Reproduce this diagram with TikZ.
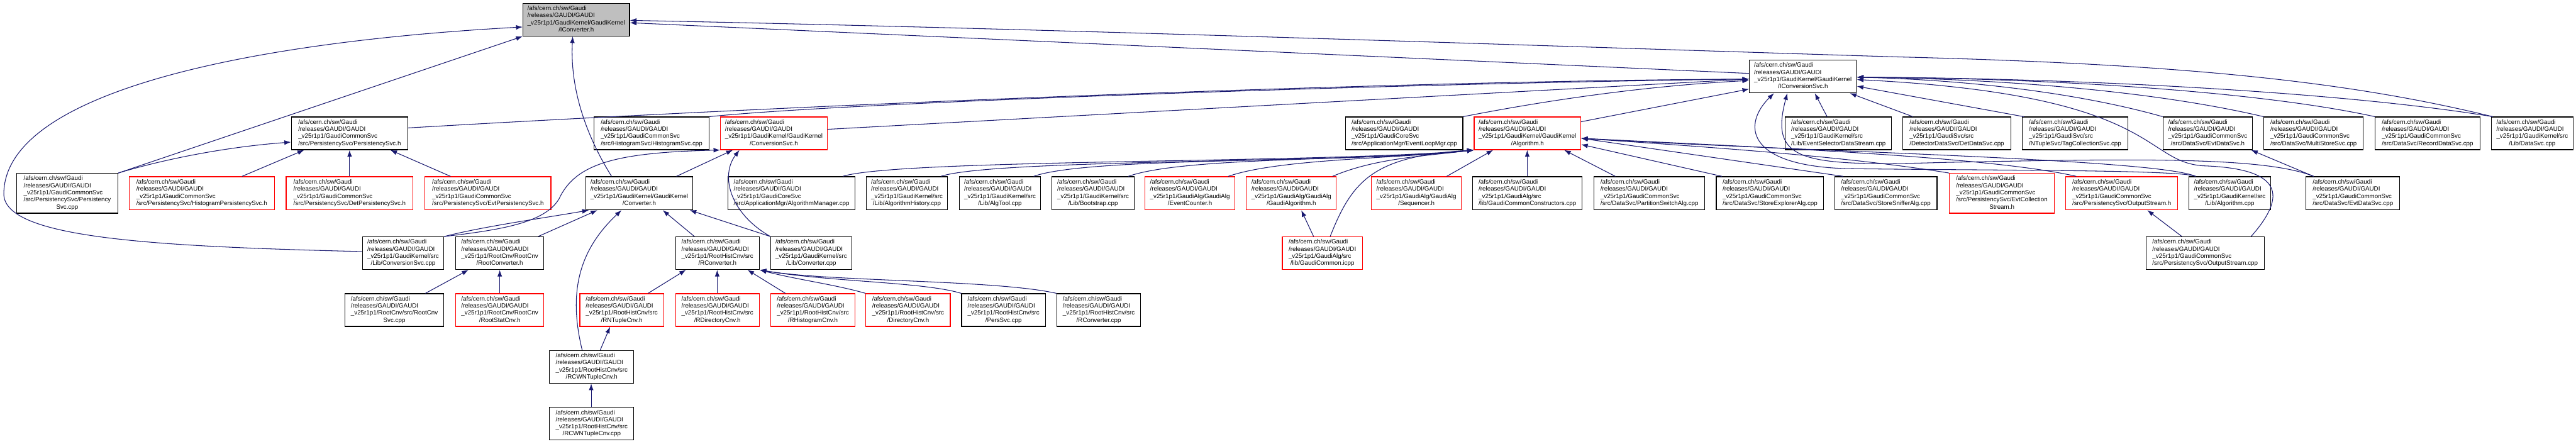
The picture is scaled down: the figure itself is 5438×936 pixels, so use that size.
\documentclass[tikz,border=0pt]{standalone}
\usepackage{fontspec}
\setmainfont{Liberation Sans}
\usetikzlibrary{arrows.meta}
\definecolor{edgec}{HTML}{191970}
\definecolor{redb}{HTML}{FF0000}
\definecolor{greyf}{HTML}{BFBFBF}
\newcommand{\fl}[2]{\begin{tabular}{@{}l@{}}/afs/cern.ch/sw/Gaudi\\/releases/GAUDI/GAUDI\\#1\\\multicolumn{1}{@{}c@{}}{#2}\end{tabular}}
\newcommand{\vl}[3]{\begin{tabular}{@{}l@{}}/afs/cern.ch/sw/Gaudi\\/releases/GAUDI/GAUDI\\#1\\#2\\\multicolumn{1}{@{}c@{}}{#3}\end{tabular}}
\newcommand{\mknode}[7]{\node[#1, minimum width={#4-#3}, minimum height={#6-#5}] (#2) at ({(#3+#4)/2},{(#5+#6)/2}) {#7};}
\begin{document}
\begin{tikzpicture}[x=1pt,y=-1pt,
  bk/.style={draw=black, line width=1.5pt, fill=white, inner sep=0pt, font=\fontsize{13pt}{15pt}\selectfont},
  rd/.style={bk, draw=redb},
  gr/.style={bk, fill=greyf},
  edge/.style={draw=edgec, line width=1.4pt, -{Latex[length=14pt,width=10pt]}}]
\fill[white] (0,0) rectangle (5438,936);
\useasboundingbox (0,0) rectangle (5438,936);
% row 0 / 1
\mknode{gr}{iconv}{1104}{1329}{7}{76}{\fl{\_v25r1p1/GaudiKernel/GaudiKernel}{/IConverter.h}}
\mknode{bk}{icsvc}{3693}{3919}{127}{196}{\fl{\_v25r1p1/GaudiKernel/GaudiKernel}{/IConversionSvc.h}}
% row 2
\mknode{bk}{perssvch}{615}{861}{247}{316}{\fl{\_v25r1p1/GaudiCommonSvc}{/src/PersistencySvc/PersistencySvc.h}}
\mknode{bk}{histsvc}{1254}{1497}{247}{316}{\fl{\_v25r1p1/GaudiCommonSvc}{/src/HistogramSvc/HistogramSvc.cpp}}
\mknode{rd}{convsvch}{1521}{1746}{247}{316}{\fl{\_v25r1p1/GaudiKernel/GaudiKernel}{/ConversionSvc.h}}
\mknode{bk}{evloop}{2841}{3088}{247}{316}{\fl{\_v25r1p1/GaudiCoreSvc}{/src/ApplicationMgr/EventLoopMgr.cpp}}
\mknode{rd}{algh}{3112}{3337}{247}{316}{\fl{\_v25r1p1/GaudiKernel/GaudiKernel}{/Algorithm.h}}
\mknode{bk}{evsel}{3769}{3993}{247}{316}{\fl{\_v25r1p1/GaudiKernel/src}{/Lib/EventSelectorDataStream.cpp}}
\mknode{bk}{detdata}{4017}{4245}{247}{316}{\fl{\_v25r1p1/GaudiSvc/src}{/DetectorDataSvc/DetDataSvc.cpp}}
\mknode{bk}{tagcoll}{4269}{4492}{247}{316}{\fl{\_v25r1p1/GaudiSvc/src}{/NTupleSvc/TagCollectionSvc.cpp}}
\mknode{bk}{evtdatah}{4566}{4755}{247}{316}{\fl{\_v25r1p1/GaudiCommonSvc}{/src/DataSvc/EvtDataSvc.h}}
\mknode{bk}{multistore}{4779}{4989}{247}{316}{\fl{\_v25r1p1/GaudiCommonSvc}{/src/DataSvc/MultiStoreSvc.cpp}}
\mknode{bk}{recorddata}{5014}{5235}{247}{316}{\fl{\_v25r1p1/GaudiCommonSvc}{/src/DataSvc/RecordDataSvc.cpp}}
\mknode{bk}{datasvc}{5259}{5432}{247}{316}{\fl{\_v25r1p1/GaudiKernel/src}{/Lib/DataSvc.cpp}}
% row 3
\mknode{bk}{perssvccpp}{35}{249}{366}{450}{\vl{\_v25r1p1/GaudiCommonSvc}{/src/PersistencySvc/Persistency}{Svc.cpp}}
\mknode{rd}{histpers}{273}{579}{373}{443}{\fl{\_v25r1p1/GaudiCommonSvc}{/src/PersistencySvc/HistogramPersistencySvc.h}}
\mknode{rd}{detpers}{604}{872}{373}{443}{\fl{\_v25r1p1/GaudiCommonSvc}{/src/PersistencySvc/DetPersistencySvc.h}}
\mknode{rd}{evtpers}{897}{1163}{373}{443}{\fl{\_v25r1p1/GaudiCommonSvc}{/src/PersistencySvc/EvtPersistencySvc.h}}
\mknode{bk}{converterh}{1237}{1462}{373}{443}{\fl{\_v25r1p1/GaudiKernel/GaudiKernel}{/Converter.h}}
\mknode{bk}{algmgr}{1537}{1805}{373}{443}{\fl{\_v25r1p1/GaudiCoreSvc}{/src/ApplicationMgr/AlgorithmManager.cpp}}
\mknode{bk}{alghist}{1829}{2000}{373}{443}{\fl{\_v25r1p1/GaudiKernel/src}{/Lib/AlgorithmHistory.cpp}}
\mknode{bk}{algtool}{2025}{2197}{373}{443}{\fl{\_v25r1p1/GaudiKernel/src}{/Lib/AlgTool.cpp}}
\mknode{bk}{bootstrap}{2221}{2394}{373}{443}{\fl{\_v25r1p1/GaudiKernel/src}{/Lib/Bootstrap.cpp}}
\mknode{rd}{evcounter}{2417}{2607}{373}{443}{\fl{\_v25r1p1/GaudiAlg/GaudiAlg}{/EventCounter.h}}
\mknode{rd}{gaudialg}{2631}{2821}{373}{443}{\fl{\_v25r1p1/GaudiAlg/GaudiAlg}{/GaudiAlgorithm.h}}
\mknode{rd}{sequencer}{2895}{3085}{373}{443}{\fl{\_v25r1p1/GaudiAlg/GaudiAlg}{/Sequencer.h}}
\mknode{bk}{gccons}{3109}{3340}{373}{443}{\fl{\_v25r1p1/GaudiAlg/src}{/lib/GaudiCommonConstructors.cpp}}
\mknode{bk}{partsw}{3365}{3599}{373}{443}{\fl{\_v25r1p1/GaudiCommonSvc}{/src/DataSvc/PartitionSwitchAlg.cpp}}
\mknode{bk}{storeexp}{3623}{3850}{373}{443}{\fl{\_v25r1p1/GaudiCommonSvc}{/src/DataSvc/StoreExplorerAlg.cpp}}
\mknode{bk}{storesniff}{3873}{4089}{373}{443}{\fl{\_v25r1p1/GaudiCommonSvc}{/src/DataSvc/StoreSnifferAlg.cpp}}
\mknode{rd}{evtcoll}{4115}{4337}{366}{450}{\vl{\_v25r1p1/GaudiCommonSvc}{/src/PersistencySvc/EvtCollection}{Stream.h}}
\mknode{rd}{outh}{4361}{4597}{373}{443}{\fl{\_v25r1p1/GaudiCommonSvc}{/src/PersistencySvc/OutputStream.h}}
\mknode{bk}{algcpp}{4621}{4793}{373}{443}{\fl{\_v25r1p1/GaudiKernel/src}{/Lib/Algorithm.cpp}}
\mknode{bk}{evtdatacpp}{4868}{5066}{373}{443}{\fl{\_v25r1p1/GaudiCommonSvc}{/src/DataSvc/EvtDataSvc.cpp}}
% row 4
\mknode{bk}{convsvccpp}{765}{937}{500}{569}{\fl{\_v25r1p1/GaudiKernel/src}{/Lib/ConversionSvc.cpp}}
\mknode{bk}{rootconvh}{962}{1148}{500}{569}{\fl{\_v25r1p1/RootCnv/RootCnv}{/RootConverter.h}}
\mknode{bk}{rconvh}{1426}{1603}{500}{569}{\fl{\_v25r1p1/RootHistCnv/src}{/RConverter.h}}
\mknode{bk}{convcpp}{1627}{1798}{500}{569}{\fl{\_v25r1p1/GaudiKernel/src}{/Lib/Converter.cpp}}
\mknode{rd}{gcicpp}{2707}{2876}{500}{569}{\fl{\_v25r1p1/GaudiAlg/src}{/lib/GaudiCommon.icpp}}
\mknode{bk}{outcpp}{4530}{4780}{500}{569}{\fl{\_v25r1p1/GaudiCommonSvc}{/src/PersistencySvc/OutputStream.cpp}}
% row 5
\mknode{bk}{rootcnvsvc}{728}{937}{620}{689}{\fl{\_v25r1p1/RootCnv/src/RootCnv}{Svc.cpp}}
\mknode{rd}{rootstat}{962}{1148}{620}{689}{\fl{\_v25r1p1/RootCnv/RootCnv}{/RootStatCnv.h}}
\mknode{rd}{rntuple}{1224}{1401}{620}{689}{\fl{\_v25r1p1/RootHistCnv/src}{/RNTupleCnv.h}}
\mknode{rd}{rdir}{1426}{1603}{620}{689}{\fl{\_v25r1p1/RootHistCnv/src}{/RDirectoryCnv.h}}
\mknode{rd}{rhist}{1627}{1805}{620}{689}{\fl{\_v25r1p1/RootHistCnv/src}{/RHistogramCnv.h}}
\mknode{rd}{dircnv}{1828}{2006}{620}{689}{\fl{\_v25r1p1/RootHistCnv/src}{/DirectoryCnv.h}}
\mknode{bk}{perssvc}{2030}{2207}{620}{689}{\fl{\_v25r1p1/RootHistCnv/src}{/PersSvc.cpp}}
\mknode{bk}{rconvcpp}{2231}{2408}{620}{689}{\fl{\_v25r1p1/RootHistCnv/src}{/RConverter.cpp}}
% rows 6, 7
\mknode{bk}{rcwnh}{1160}{1338}{740}{809}{\fl{\_v25r1p1/RootHistCnv/src}{/RCWNTupleCnv.h}}
\mknode{bk}{rcwncpp}{1160}{1338}{860}{929}{\fl{\_v25r1p1/RootHistCnv/src}{/RCWNTupleCnv.cpp}}

% ---- edges into IConverter.h
\draw[edge] (icsvc.west |- 0,155) -- (iconv.east |- 0,48);
\draw[edge] (datasvc.north -| 5262,0) .. controls (4950,170) and (4600,135) .. (4000,120) .. controls (3200,95) and (2200,60) .. (iconv.east |- 0,43);
\draw[edge] (perssvccpp.north east) -- (iconv.south west);
\draw[edge] (convsvccpp.west |- 0,531) .. controls (300,520) and (10,500) .. (8,410) .. controls (8,200) and (500,90) .. (iconv.west |- 0,57);
\draw[edge] (converterh.north -| 1291,0) .. controls (1215,250) and (1205,150) .. (iconv.south -| 1209,0);
% ---- edges into IConversionSvc.h
\draw[edge] (perssvch.east |- 0,270) .. controls (1800,215) and (3000,170) .. (icsvc.west |- 0,167);
\draw[edge] (histsvc.north east) .. controls (1800,215) and (3000,175) .. (icsvc.west |- 0,167);
\draw[edge] (convsvch.east |- 0,273) -- (icsvc.west |- 0,167);
\draw[edge] (evloop.north east) .. controls (3300,205) and (3500,180) .. (icsvc.west |- 0,170);
\draw[edge] (algh.east |- 0,257) -- (icsvc.west |- 0,188);
\draw[edge] (evsel.north -| 3857,0) -- (icsvc.south -| 3831,0);
\draw[edge] (detdata.north -| 4038,0) -- (icsvc.south -| 3905,0);
\draw[edge] (tagcoll.north -| 4272,0) -- (icsvc.east |- 0,182);
\draw[edge] (evtdatah.north west) .. controls (4420,205) and (4200,170) .. (icsvc.east |- 0,163);
\draw[edge] (multistore.north west) .. controls (4560,195) and (4250,167) .. (icsvc.east |- 0,163);
\draw[edge] (recorddata.north west) .. controls (4780,195) and (4350,165) .. (icsvc.east |- 0,163);
\draw[edge] (datasvc.north -| 5262,0) .. controls (4950,195) and (4400,165) .. (icsvc.east |- 0,163);
\draw[edge] (outcpp.north -| 4752,0) .. controls (4840,400) and (4800,355) .. (4650,350) .. controls (4520,340) and (4560,200) .. (icsvc.east |- 0,168);
\draw[edge] (algcpp.north -| 4635,0) .. controls (4600,358) and (4200,360) .. (3900,356) .. controls (3680,350) and (3680,260) .. (icsvc.south -| 3745,0);
\draw[edge] (evtdatacpp.north -| 4884,0) .. controls (4780,330) and (4500,335) .. (4100,343) .. controls (3800,352) and (3735,340) .. (icsvc.south -| 3773,0);
% ---- edges into Algorithm.h
\draw[edge] (algmgr.north -| 1779,0) .. controls (1900,335) and (2800,345) .. (algh.south west);
\draw[edge] (alghist.north -| 1986,0) .. controls (2100,335) and (2850,345) .. (algh.south west);
\draw[edge] (algtool.north -| 2182,0) .. controls (2300,330) and (2850,345) .. (algh.south west);
\draw[edge] (bootstrap.north -| 2382,0) .. controls (2500,330) and (2900,340) .. (algh.south west);
\draw[edge] (evcounter.north -| 2593,0) .. controls (2700,335) and (2950,335) .. (algh.south west);
\draw[edge] (gaudialg.north -| 2813,0) .. controls (2900,335) and (3000,330) .. (algh.south west);
\draw[edge] (gcicpp.north -| 2808,0) .. controls (2855,380) and (2900,330) .. (algh.south west);
\draw[edge] (sequencer.north -| 3054,0) -- (algh.south -| 3152,0);
\draw[edge] (gccons.north -| 3224,0) -- (algh.south -| 3224,0);
\draw[edge] (partsw.north -| 3410,0) -- (algh.south -| 3302,0);
\draw[edge] (storeexp.north -| 3635,0) -- (algh.east |- 0,305);
\draw[edge] (storesniff.north -| 3891,0) -- (algh.east |- 0,292);
\draw[edge] (evtcoll.north west) .. controls (3900,330) and (3600,310) .. (algh.east |- 0,292);
\draw[edge] (outh.north -| 4383,0) .. controls (4200,330) and (3700,310) .. (algh.east |- 0,292);
\draw[edge] (algcpp.north -| 4635,0) .. controls (4550,335) and (3800,320) .. (algh.east |- 0,292);
\draw[edge] (gcicpp.north -| 2773,0) -- (gaudialg.south -| 2747,0);
% ---- ConversionSvc.h / Converter.h
\draw[edge] (converterh.north -| 1428,0) -- (convsvch.south -| 1547,0);
\draw[edge] (convsvccpp.north east) .. controls (1060,485) and (1150,470) .. (1180,420) .. controls (1215,345) and (1300,322) .. (convsvch.south west);
\draw[edge] (convcpp.north west) .. controls (1540,450) and (1520,370) .. (convsvch.south -| 1561,0);
\draw[edge] (convsvccpp.north east) .. controls (1020,478) and (1150,460) .. (converterh.south -| 1243,0);
\draw[edge] (rootconvh.north -| 1136,0) -- (converterh.south -| 1261,0);
\draw[edge] (rcwnh.north -| 1229,0) .. controls (1200,620) and (1220,530) .. (converterh.south -| 1312,0);
\draw[edge] (rconvh.north -| 1466,0) -- (converterh.south -| 1399,0);
\draw[edge] (convcpp.north west) -- (converterh.south -| 1456,0);
% ---- RootCnv / RootHistCnv
\draw[edge] (rootcnvsvc.north -| 898,0) -- (rootconvh.south -| 989,0);
\draw[edge] (rootstat.north -| 1055,0) -- (rootconvh.south -| 1055,0);
\draw[edge] (rntuple.north -| 1368,0) -- (rconvh.south -| 1448,0);
\draw[edge] (rdir.north -| 1514,0) -- (rconvh.south -| 1514,0);
\draw[edge] (rhist.north -| 1658,0) -- (rconvh.south -| 1578,0);
\draw[edge] (dircnv.north west) .. controls (1760,600) and (1680,590) .. (rconvh.south east);
\draw[edge] (perssvc.north west) .. controls (1950,595) and (1750,595) .. (rconvh.south east);
\draw[edge] (rconvcpp.north west) .. controls (2100,590) and (1750,595) .. (rconvh.south east);
\draw[edge] (rcwnh.north -| 1267,0) -- (rntuple.south -| 1288,0);
\draw[edge] (rcwncpp.north -| 1248,0) -- (rcwnh.south -| 1248,0);
% ---- PersistencySvc.h
\draw[edge] (perssvccpp.north east) .. controls (350,335) and (480,310) .. (perssvch.west |- 0,300);
\draw[edge] (histpers.north -| 511,0) -- (perssvch.south -| 642,0);
\draw[edge] (detpers.north -| 738,0) -- (perssvch.south -| 738,0);
\draw[edge] (evtpers.north -| 951,0) -- (perssvch.south -| 824,0);
% ---- misc
\draw[edge] (evtdatacpp.north -| 4884,0) -- (evtdatah.south -| 4752,0);
\draw[edge] (outcpp.north -| 4606,0) -- (outh.south -| 4533,0);
\end{tikzpicture}
\end{document}
